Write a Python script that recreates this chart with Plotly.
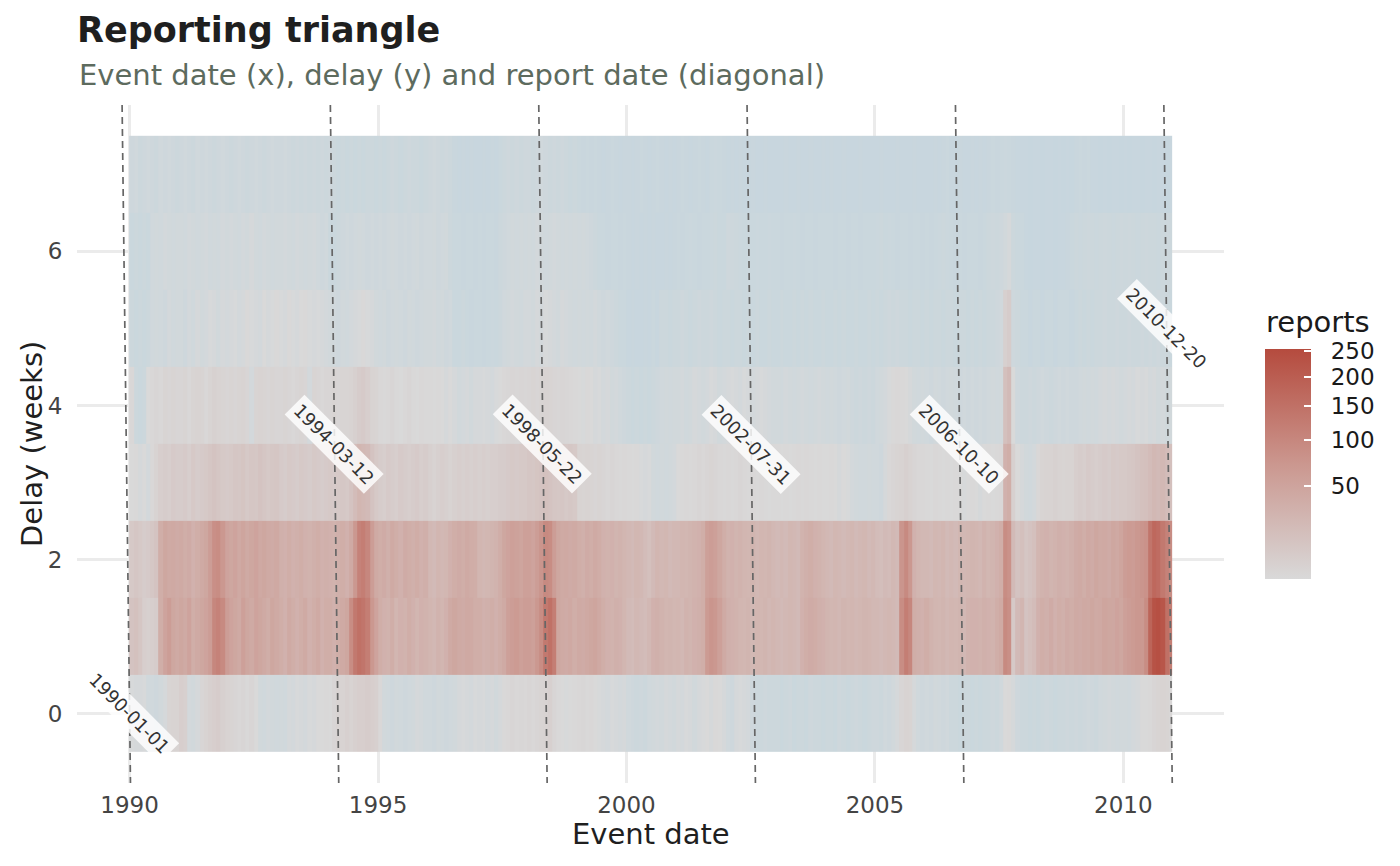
import numpy as np
import pandas as pd
import plotly.graph_objects as go

# ---------------- data (monthly mean weekly reports per delay) ----------------
first_event = "1990-01-01"
last_event = "2010-12-20"
delays = [0, 1, 2, 3, 4, 5, 6, 7]

delay0 = [
    0.9, 0.8, 0.8, 0.9, 0.5, 0.5, 0.4, 0.6, 0.8, 2.5, 3, 3,          # 1990
    5, 4, 0.7, 0.6, 0.8, 2, 3, 4, 5, 6, 4, 3,                       # 1991
    2.5, 2, 1.5, 2, 1.2, 2, 1, 0.6, 0.5, 0.7, 0.6, 0.5,             # 1992
    0.6, 0.5, 0.8, 0.7, 0.9, 0.8, 0.7, 0.9, 0.8, 1, 1, 1.2,         # 1993
    1, 2, 3, 3, 4, 3, 4, 5, 5, 6, 5, 4,                             # 1994
    1.5, 0.6, 0.5, 0.4, 0.6, 0.5, 0.4, 0.5, 0.6, 0.8, 0.7, 0.5,     # 1995
    0.5, 0.4, 0.6, 0.5, 0.4, 0.5, 0.6, 0.8, 0.9, 0.8, 0.7, 0.9,     # 1996
    0.8, 0.9, 0.7, 0.8, 0.6, 0.8, 1.2, 1.5, 2, 1.5, 1.8, 1.5,       # 1997
    2, 1.5, 2, 2.5, 3, 4, 2, 1.2, 1, 0.9, 1, 1.2,                   # 1998
    1.5, 1.8, 1.2, 1.5, 1, 0.9, 0.8, 0.7, 0.9, 0.8, 0.7, 0.8,       # 1999
    0.5, 0.4, 0.3, 0.4, 0.3, 0.5, 0.6, 0.7, 0.6, 0.8, 0.7, 0.6,     # 2000
    0.8, 0.7, 0.9, 0.8, 0.6, 0.8, 0.9, 1, 0.8, 1.2, 1, 0.8,         # 2001
    0.5, 0.4, 0.8, 0.9, 0.8, 0.7, 0.4, 0.3, 0.3, 0.4, 0.3, 0.3,     # 2002
    0.3, 0.2, 0.3, 0.4, 0.2, 0.3, 0.3, 0.2, 0.4, 0.3, 0.3, 0.2,     # 2003
    0.3, 0.3, 0.2, 0.4, 0.3, 0.2, 0.3, 0.4, 0.3, 0.2, 0.3, 0.4,     # 2004
    0.4, 0.3, 0.5, 0.4, 0.6, 0.8, 2, 3, 2.5, 0.8, 0.5, 0.4,         # 2005
    0.5, 0.4, 0.6, 0.5, 0.4, 0.5, 0.3, 0.3, 0.2, 0.3, 0.3, 0.2,     # 2006
    0.3, 0.2, 0.3, 0.3, 0.4, 0.3, 0.5, 1, 1.2, 0.8, 0.4, 0.3,       # 2007
    0.3, 0.2, 0.3, 0.2, 0.3, 0.4, 0.3, 0.2, 0.3, 0.3, 0.4, 0.3,     # 2008
    0.4, 0.3, 0.4, 0.5, 0.4, 0.3, 0.5, 0.6, 0.7, 0.6, 0.5, 0.6,     # 2009
    0.6, 0.5, 0.7, 0.8, 1, 1, 1.2, 2, 2.5, 3, 2.5, 1.5,             # 2010
]
delay1 = [
    12, 14, 10, 5, 4, 5, 6, 35, 50, 60, 45, 40,
    45, 40, 50, 35, 40, 45, 50, 60, 100, 110, 95, 60,
    50, 45, 40, 55, 45, 40, 50, 45, 40, 35, 45, 40,
    35, 30, 40, 35, 30, 35, 40, 30, 35, 40, 30, 35,
    35, 30, 35, 40, 45, 90, 130, 150, 140, 120, 70, 50,
    35, 30, 28, 35, 25, 30, 28, 35, 30, 25, 30, 28,
    25, 22, 28, 25, 30, 40, 45, 40, 38, 42, 40, 35,
    35, 30, 32, 35, 30, 35, 40, 55, 60, 65, 55, 60,
    60, 55, 70, 90, 130, 150, 120, 45, 40, 38, 42, 35,
    40, 38, 42, 45, 48, 42, 35, 30, 28, 32, 30, 25,
    20, 18, 22, 20, 18, 22, 30, 32, 28, 25, 26, 24,
    25, 22, 28, 26, 30, 32, 35, 65, 75, 70, 55, 40,
    32, 30, 28, 25, 24, 26, 22, 25, 24, 26, 22, 25,
    22, 20, 22, 24, 22, 20, 30, 35, 38, 36, 32, 30,
    26, 24, 25, 22, 26, 24, 25, 22, 24, 26, 25, 22,
    22, 20, 22, 24, 22, 20, 90, 120, 100, 35, 32, 30,
    35, 28, 25, 24, 26, 22, 25, 24, 26, 22, 28, 30,
    30, 28, 32, 30, 28, 35, 40, 95, 85, 8, 20, 25,
    12, 15, 18, 30, 35, 32, 38, 30, 35, 32, 38, 35,
    40, 38, 42, 40, 45, 40, 42, 48, 45, 44, 50, 45,
    55, 60, 65, 70, 68, 90, 180, 230, 240, 220, 150, 120,
]
delay2 = [
    8, 10, 8, 6, 7, 9, 12, 35, 45, 40, 42, 38,
    40, 35, 38, 30, 35, 40, 45, 60, 85, 90, 70, 50,
    45, 50, 42, 48, 40, 45, 50, 42, 45, 40, 38, 42,
    32, 30, 35, 30, 32, 35, 30, 28, 32, 35, 30, 32,
    30, 28, 32, 35, 30, 40, 70, 110, 120, 100, 60, 40,
    35, 38, 32, 40, 35, 30, 38, 35, 32, 36, 30, 33,
    22, 20, 25, 22, 24, 30, 35, 38, 35, 40, 36, 35,
    25, 22, 24, 26, 28, 35, 45, 50, 55, 52, 48, 55,
    55, 50, 60, 75, 95, 90, 60, 45, 40, 42, 38, 40,
    35, 32, 38, 35, 40, 36, 30, 28, 30, 26, 28, 25,
    22, 20, 24, 22, 18, 15, 20, 25, 22, 24, 20, 22,
    22, 25, 24, 26, 28, 30, 35, 55, 60, 55, 45, 35,
    28, 30, 26, 28, 25, 24, 26, 22, 25, 24, 26, 22,
    20, 22, 20, 24, 22, 20, 28, 32, 35, 30, 28, 25,
    22, 20, 24, 22, 20, 22, 24, 20, 22, 24, 20, 22,
    18, 16, 20, 18, 22, 20, 75, 95, 70, 30, 25, 22,
    22, 20, 24, 22, 25, 20, 22, 20, 24, 22, 24, 26,
    25, 22, 28, 24, 26, 30, 35, 90, 80, 20, 12, 15,
    10, 12, 15, 25, 28, 30, 26, 28, 32, 30, 28, 32,
    38, 40, 35, 42, 38, 45, 40, 42, 38, 45, 42, 48,
    60, 65, 62, 70, 75, 80, 140, 170, 160, 130, 110, 90,
]
delay3 = [
    1, 1.2, 0.8, 1, 0.7, 1.5, 3, 5, 6, 5, 7, 6,
    6, 7, 5, 8, 6, 7, 8, 10, 12, 10, 8, 7,
    8, 10, 9, 11, 8, 10, 9, 12, 10, 8, 9, 10,
    7, 6, 8, 7, 6, 8, 7, 6, 8, 7, 6, 7,
    8, 7, 8, 9, 8, 12, 18, 25, 22, 20, 12, 8,
    6, 5, 7, 6, 5, 7, 6, 5, 6, 7, 5, 6,
    4, 3, 4, 5, 4, 3, 4, 5, 4, 5, 4, 5,
    4, 5, 4, 5, 5, 6, 6, 7, 8, 7, 8, 8,
    10, 9, 11, 12, 14, 12, 10, 9, 10, 8, 9, 8,
    3, 2.5, 3, 2.5, 2, 2.5, 2, 1.5, 2, 1.5, 1.2, 1.5,
    1.2, 1, 1.2, 0.9, 0.8, 0.9, 0.6, 0.5, 0.6, 0.5, 0.6, 0.7,
    1, 1.2, 1.5, 1.2, 1.5, 2, 1.5, 2, 2.5, 2, 1.5, 1.2,
    1.5, 1.2, 1.5, 2, 1.5, 1.2, 1.5, 1.2, 1.5, 1.2, 1, 1.2,
    1.2, 1, 1.2, 1, 1.2, 1.5, 1.2, 1.5, 1.2, 1, 1.2, 1,
    1, 1.2, 1, 0.8, 1, 0.9, 0.7, 0.6, 0.5, 0.5, 0.6, 0.5,
    0.5, 0.4, 0.8, 1.5, 2, 2.5, 3, 4, 3, 2, 1.5, 1.5,
    1.2, 1, 1.5, 1.2, 1, 1.2, 1, 1.2, 1, 0.9, 1, 1.2,
    1, 0.8, 1, 1.2, 1, 1.2, 1.5, 30, 35, 4, 1, 0.8,
    0.6, 0.5, 0.7, 1.5, 2.5, 3, 3, 3.5, 3, 2.5, 3, 3,
    5, 6, 5, 7, 6, 5, 6, 7, 6, 8, 7, 8,
    8, 9, 10, 12, 14, 15, 18, 22, 20, 22, 18, 15,
]
delay4 = [
    1.5, 0.3, 0.2, 0.3, 1, 1.5, 2, 1.5, 2.5, 2, 2.5, 2,
    2, 2.5, 1.5, 2.5, 3, 2.5, 1.5, 2.5, 3.5, 3, 2.5, 2,
    2.5, 2, 2.5, 3, 2, 0.7, 2.5, 3, 2.5, 2, 2.5, 2,
    2, 2.5, 2, 1.5, 2, 2.5, 2, 0.7, 2.5, 2, 1.5, 2,
    2, 2.5, 2, 2.5, 2.5, 3, 4, 6, 7, 5, 3, 2.5,
    1.5, 1.2, 1.5, 2, 1.2, 1, 1.5, 2, 1.2, 1, 1.5, 1.2,
    1.2, 1, 1.2, 1, 0.8, 1, 0.8, 0.6, 0.7, 0.8, 0.6, 0.8,
    0.8, 0.9, 0.8, 0.7, 0.9, 1, 1.5, 1.8, 2, 1.8, 2, 1.8,
    2, 2.5, 2, 2.5, 3, 2.5, 2, 1.8, 2, 1.8, 1.5, 1.2,
    1, 0.9, 1.2, 1, 0.8, 0.9, 0.7, 0.8, 0.6, 0.7, 0.5, 0.4,
    0.3, 0.2, 0.3, 0.2, 0.3, 0.2, 0.3, 0.4, 0.5, 0.6, 0.5, 0.6,
    0.6, 0.7, 0.5, 0.6, 0.8, 0.7, 0.6, 0.7, 0.9, 0.8, 0.6, 0.7,
    0.8, 0.9, 0.8, 0.7, 0.9, 0.8, 0.7, 0.8, 0.9, 0.8, 0.7, 0.6,
    0.6, 0.5, 0.7, 0.6, 0.5, 0.6, 0.7, 0.6, 0.5, 0.6, 0.7, 0.6,
    0.5, 0.6, 0.5, 0.4, 0.5, 0.6, 0.4, 0.3, 0.4, 0.3, 0.4, 0.3,
    0.5, 0.6, 0.7, 0.9, 1.2, 1.5, 1.2, 1, 0.8, 0.6, 0.5, 0.6,
    0.5, 0.4, 0.6, 0.5, 0.4, 0.5, 0.6, 0.5, 0.4, 0.5, 0.4, 0.5,
    0.4, 0.5, 0.4, 0.5, 0.6, 0.5, 0.6, 15, 20, 1, 0.4, 0.3,
    0.3, 0.4, 0.3, 0.4, 0.5, 0.4, 0.3, 0.4, 0.5, 0.4, 0.5, 0.4,
    0.4, 0.5, 0.6, 0.5, 0.6, 0.5, 0.7, 0.8, 0.7, 0.8, 0.7, 0.6,
    0.7, 0.8, 0.7, 0.9, 0.8, 0.9, 0.7, 0.8, 0.6, 0.7, 0.5, 0.6,
]
delay5 = [
    0.3, 0.2, 0.3, 0.2, 0.3, 0.5, 0.6, 0.5, 0.4, 0.7, 0.5, 0.6,
    0.6, 0.4, 0.7, 0.5, 0.8, 0.6, 0.7, 0.9, 0.8, 0.6, 0.8, 0.7,
    0.8, 0.9, 0.7, 0.8, 1.2, 0.9, 0.8, 0.7, 1, 0.8, 0.9, 1.2,
    0.9, 0.8, 1.2, 0.9, 0.8, 1, 1.2, 0.9, 0.8, 0.9, 0.8, 0.7,
    0.6, 0.5, 0.4, 0.6, 0.5, 0.7, 0.8, 0.9, 1.2, 0.9, 0.8, 0.6,
    0.5, 0.6, 0.4, 0.5, 0.6, 0.5, 0.4, 0.6, 0.5, 0.4, 0.5, 0.6,
    0.6, 0.7, 0.5, 0.6, 0.4, 0.5, 0.2, 0.2, 0.3, 0.2, 0.15, 0.2,
    0.2, 0.15, 0.2, 0.25, 0.2, 0.3, 0.5, 0.6, 0.7, 0.6, 0.5, 0.7,
    0.7, 0.6, 0.8, 0.7, 0.9, 0.8, 0.7, 0.6, 0.8, 0.7, 0.6, 0.5,
    0.6, 0.5, 0.6, 0.5, 0.7, 0.5, 0.4, 0.5, 0.4, 0.3, 0.2, 0.2,
    0.1, 0.15, 0.1, 0.1, 0.15, 0.1, 0.2, 0.1, 0.3, 0.3, 0.2, 0.3,
    0.3, 0.4, 0.3, 0.2, 0.3, 0.4, 0.3, 0.3, 0.4, 0.3, 0.2, 0.3,
    0.3, 0.2, 0.3, 0.3, 0.2, 0.3, 0.2, 0.3, 0.2, 0.2, 0.3, 0.2,
    0.2, 0.3, 0.2, 0.2, 0.3, 0.2, 0.3, 0.2, 0.3, 0.2, 0.2, 0.3,
    0.2, 0.2, 0.3, 0.2, 0.3, 0.2, 0.2, 0.3, 0.2, 0.2, 0.3, 0.2,
    0.3, 0.2, 0.3, 0.4, 0.3, 0.4, 0.3, 0.3, 0.2, 0.3, 0.3, 0.2,
    0.3, 0.2, 0.3, 0.3, 0.2, 0.3, 0.3, 0.2, 0.3, 0.3, 0.2, 0.3,
    0.2, 0.3, 0.2, 0.3, 0.3, 0.4, 0.5, 4, 6, 0.4, 0.3, 0.2,
    0.2, 0.1, 0.2, 0.2, 0.1, 0.2, 0.2, 0.1, 0.2, 0.2, 0.2, 0.1,
    0.2, 0.3, 0.2, 0.3, 0.2, 0.3, 0.3, 0.4, 0.3, 0.3, 0.4, 0.3,
    0.3, 0.4, 0.3, 0.3, 0.4, 0.3, 0.4, 0.3, 0.4, 0.3, 0.3, 0.2,
]
delay6 = [
    0.2, 0.3, 0.2, 0.3, 0.2, 0.5, 0.6, 0.5, 0.7, 0.6, 0.5, 0.6,
    0.6, 0.5, 0.7, 0.6, 0.5, 0.6, 0.7, 0.5, 0.6, 0.5, 0.7, 0.6,
    0.7, 0.6, 0.5, 0.7, 0.6, 0.8, 0.6, 0.5, 0.7, 0.6, 0.5, 0.6,
    0.6, 0.7, 0.6, 0.5, 0.7, 0.6, 0.5, 0.6, 0.7, 0.5, 0.4, 0.5,
    0.2, 0.2, 0.3, 0.4, 0.5, 0.4, 0.5, 0.6, 0.5, 0.4, 0.5, 0.4,
    0.5, 0.4, 0.5, 0.6, 0.5, 0.4, 0.5, 0.4, 0.5, 0.6, 0.4, 0.5,
    0.5, 0.6, 0.4, 0.5, 0.6, 0.3, 0.2, 0.2, 0.15, 0.2, 0.2, 0.15,
    0.2, 0.15, 0.2, 0.2, 0.15, 0.3, 0.4, 0.5, 0.6, 0.5, 0.6, 0.5,
    0.6, 0.5, 0.7, 0.6, 0.5, 0.6, 0.7, 0.6, 0.5, 0.6, 0.5, 0.6,
    0.5, 0.6, 0.5, 0.4, 0.3, 0.2, 0.2, 0.15, 0.2, 0.2, 0.15, 0.2,
    0.15, 0.1, 0.15, 0.1, 0.15, 0.1, 0.15, 0.1, 0.1, 0.15, 0.1, 0.15,
    0.2, 0.15, 0.2, 0.25, 0.2, 0.15, 0.2, 0.2, 0.25, 0.3, 0.2, 0.2,
    0.4, 0.35, 0.3, 0.25, 0.2, 0.25, 0.2, 0.25, 0.2, 0.2, 0.25, 0.2,
    0.2, 0.15, 0.2, 0.2, 0.25, 0.2, 0.15, 0.2, 0.2, 0.15, 0.2, 0.2,
    0.2, 0.2, 0.15, 0.2, 0.2, 0.15, 0.2, 0.2, 0.15, 0.2, 0.2, 0.2,
    0.25, 0.3, 0.2, 0.25, 0.2, 0.15, 0.2, 0.2, 0.15, 0.2, 0.2, 0.15,
    0.2, 0.15, 0.2, 0.25, 0.3, 0.25, 0.2, 0.15, 0.2, 0.15, 0.2, 0.2,
    0.2, 0.15, 0.2, 0.3, 0.35, 0.3, 0.4, 0.6, 0.8, 0.3, 0.2, 0.2,
    0.1, 0.05, 0.1, 0.1, 0.05, 0.1, 0.1, 0.05, 0.1, 0.1, 0.15, 0.2,
    0.3, 0.25, 0.3, 0.35, 0.3, 0.25, 0.3, 0.35, 0.3, 0.25, 0.3, 0.35,
    0.3, 0.35, 0.3, 0.25, 0.3, 0.35, 0.3, 0.3, 0.25, 0.3, 0.35, 0.3,
]
delay7 = [
    0.4, 0.5, 0.3, 0.4, 0.5, 0.4, 0.3, 0.5, 0.4, 0.5, 0.4, 0.3,
    0.4, 0.5, 0.4, 0.3, 0.5, 0.4, 0.5, 0.4, 0.3, 0.4, 0.5, 0.4,
    0.3, 0.4, 0.5, 0.4, 0.3, 0.4, 0.5, 0.4, 0.3, 0.4, 0.5, 0.4,
    0.4, 0.5, 0.4, 0.3, 0.4, 0.3, 0.4, 0.3, 0.4, 0.3, 0.4, 0.3,
    0.4, 0.3, 0.2, 0.3, 0.2, 0.3, 0.2, 0.3, 0.2, 0.3, 0.3, 0.2,
    0.3, 0.2, 0.3, 0.4, 0.3, 0.2, 0.3, 0.4, 0.3, 0.3, 0.2, 0.3,
    0.4, 0.5, 0.4, 0.3, 0.4, 0.3, 0.15, 0.1, 0.15, 0.1, 0.15, 0.1,
    0.1, 0.15, 0.1, 0.15, 0.1, 0.2, 0.3, 0.4, 0.3, 0.4, 0.3, 0.4,
    0.4, 0.3, 0.4, 0.5, 0.4, 0.3, 0.4, 0.3, 0.4, 0.3, 0.2, 0.3,
    0.2, 0.15, 0.2, 0.15, 0.2, 0.15, 0.1, 0.15, 0.2, 0.15, 0.1, 0.15,
    0.15, 0.1, 0.15, 0.2, 0.15, 0.1, 0.15, 0.2, 0.15, 0.1, 0.15, 0.1,
    0.15, 0.2, 0.15, 0.1, 0.15, 0.2, 0.15, 0.1, 0.2, 0.25, 0.2, 0.15,
    0.1, 0.15, 0.1, 0.15, 0.1, 0.1, 0.15, 0.1, 0.1, 0.15, 0.1, 0.1,
    0.1, 0.1, 0.15, 0.1, 0.1, 0.15, 0.1, 0.1, 0.15, 0.1, 0.1, 0.15,
    0.1, 0.15, 0.1, 0.1, 0.15, 0.1, 0.1, 0.1, 0.15, 0.1, 0.1, 0.1,
    0.1, 0.15, 0.1, 0.1, 0.1, 0.15, 0.1, 0.1, 0.1, 0.15, 0.1, 0.1,
    0.1, 0.1, 0.15, 0.1, 0.15, 0.2, 0.1, 0.1, 0.15, 0.1, 0.1, 0.15,
    0.1, 0.15, 0.1, 0.15, 0.2, 0.15, 0.2, 0.25, 0.2, 0.15, 0.1, 0.1,
    0.1, 0.05, 0.1, 0.1, 0.05, 0.1, 0.1, 0.05, 0.1, 0.05, 0.1, 0.05,
    0.15, 0.2, 0.15, 0.2, 0.1, 0.1, 0.05, 0.1, 0.05, 0.1, 0.1, 0.05,
    0.1, 0.05, 0.1, 0.1, 0.05, 0.1, 0.1, 0.05, 0.1, 0.1, 0.05, 0.1,
]

report_dates = ["1990-01-01", "1994-03-12", "1998-05-22", "2002-07-31", "2006-10-10", "2010-12-20"]
label_delays = [0, 3.5, 3.5, 3.5, 3.5, 5]
x_tick_years = [1990, 1995, 2000, 2005, 2010]
y_ticks = [0, 2, 4, 6]
cbar_ticks = [50, 100, 150, 200, 250]
max_reports = 254

# ---------------- build ----------------
rows = [delay0, delay1, delay2, delay3, delay4, delay5, delay6, delay7]
for r in rows:
    assert len(r) == 252, len(r)
z = np.array(rows, dtype=float)
zt = np.where(z < 1, z, np.sqrt(z))
zmax = np.sqrt(max_reports)

half_week = pd.Timedelta(days=3.5)
t0 = pd.Timestamp(first_event)
t1 = pd.Timestamp(last_event)
months = pd.date_range(first_event, periods=z.shape[1], freq="MS")
edges = [t0 - half_week] + list(months[1:]) + [t1 + half_week]
edges = [e.strftime("%Y-%m-%d %H:%M") for e in edges]

span = (t1 + half_week) - (t0 - half_week)
xr = [(t0 - half_week - span * 0.05), (t1 + half_week + span * 0.05)]
y_lo, y_hi = min(delays) - 0.5, max(delays) + 0.5
yr = [y_lo - 0.05 * (y_hi - y_lo), y_hi + 0.05 * (y_hi - y_lo)]

BLUE = "#c6d6de"
GREY = "#d9d9d9"
MID = "#cb978f"
RED = "#b54b3e"
s1 = 1.0 / zmax
main_scale = [[0, BLUE], [s1, GREY], [s1 + (1 - s1) * 0.5, MID], [1, RED]]
bar_scale = [[0, GREY], [0.5, MID], [1, RED]]

FONT = "DejaVu Sans"
W, H = 1400, 866
ml, mr, mt, mb = 77, 176, 105, 83
pw, ph = W - ml - mr, H - mt - mb

fig = go.Figure()
fig.add_trace(go.Heatmap(
    x=edges, y=delays, z=zt, zmin=0, zmax=zmax,
    colorscale=main_scale, showscale=False, hoverinfo="skip",
))

# colour bar carrier (bar 349..579 px), title drawn as annotation
cb_len = 230
cb_center = 579 - cb_len / 2
fig.add_trace(go.Scatter(
    x=[None], y=[None], mode="markers", showlegend=False, hoverinfo="skip",
    marker=dict(
        color=[1], cmin=1, cmax=zmax, colorscale=bar_scale, showscale=True,
        colorbar=dict(
            thickness=46, thicknessmode="pixels", len=cb_len, lenmode="pixels",
            xpad=0, ypad=0,
            x=(1265 - ml) / pw, xanchor="left", y=(H - mb - cb_center) / ph, yanchor="middle",
            tickvals=np.sqrt(cbar_ticks), ticktext=["\u00a0\u00a0" + str(t) for t in cbar_ticks],
            ticks="inside", ticklen=7, tickcolor="white", tickwidth=1.5,
            outlinewidth=0, tickfont=dict(family=FONT, size=23, color="#1a1a1a"),
        ),
    ),
))
fig.add_annotation(
    xref="paper", yref="paper", x=(1264 - ml) / pw, y=(H - mb - 322) / ph,
    xanchor="left", yanchor="middle", text="reports", showarrow=False,
    font=dict(family=FONT, size=29, color="#1a1a1a"),
)

# report-date diagonals
for r in report_dates:
    rd = pd.Timestamp(r)
    xs = [rd - pd.Timedelta(days=7 * yr[1]), rd - pd.Timedelta(days=7 * yr[0])]
    fig.add_trace(go.Scatter(
        x=xs, y=[yr[1], yr[0]], mode="lines", showlegend=False, hoverinfo="skip",
        line=dict(color="#666666", width=1.7, dash="7px,5px"),
    ))

for r, d in zip(report_dates, label_delays):
    rd = pd.Timestamp(r)
    fig.add_annotation(
        x=rd - pd.Timedelta(days=7 * d), y=d, text=r, textangle=45, showarrow=False,
        xanchor="center", yanchor="middle",
        font=dict(family=FONT, size=18, color="#333333"),
        bgcolor="rgba(255,255,255,0.82)", borderpad=3,
    )

# titles
fig.add_annotation(
    xref="paper", yref="paper", x=0, y=(H - mb - 75) / ph, xanchor="left", yanchor="middle",
    text="Event date (x), delay (y) and report date (diagonal)", showarrow=False,
    font=dict(family=FONT, size=29, color="#5d6b5e"),
)
fig.add_annotation(
    xref="paper", yref="paper", x=0.5, y=(H - mb - 834) / ph, xanchor="center", yanchor="middle",
    text="Event date", showarrow=False, font=dict(family=FONT, size=29, color="#1f1f1f"),
)
fig.add_annotation(
    xref="paper", yref="paper", x=(32 - ml) / pw, y=0.5, xanchor="center", yanchor="middle",
    text="Delay (weeks)", textangle=-90, showarrow=False,
    font=dict(family=FONT, size=29, color="#1f1f1f"),
)

fig.update_layout(
    width=W, height=H,
    margin=dict(l=ml, r=mr, t=mt, b=mb, autoexpand=False),
    paper_bgcolor="white", plot_bgcolor="white",
    font=dict(family=FONT),
    showlegend=False,
    title=dict(
        text="<b>Reporting triangle</b>", x=77 / W, xanchor="left", xref="container",
        y=1 - 30 / H, yanchor="middle", yref="container",
        font=dict(family=FONT, size=35, color="#1f1f1f"),
    ),
    xaxis=dict(
        type="date", range=xr, tickvals=[f"{y}-01-01" for y in x_tick_years],
        ticktext=[str(y) for y in x_tick_years],
        showgrid=True, gridcolor="#ebebeb", gridwidth=2.5, zeroline=False, showline=False,
        ticks="outside", ticklen=1, tickcolor="rgba(0,0,0,0)",
        tickfont=dict(family=FONT, size=23, color="#444444"),
    ),
    yaxis=dict(
        range=yr, tickvals=y_ticks, ticktext=[str(v) for v in y_ticks],
        showgrid=True, gridcolor="#ebebeb", gridwidth=2.5, zeroline=False, showline=False,
        ticks="outside", ticklen=9, tickcolor="rgba(0,0,0,0)",
        tickfont=dict(family=FONT, size=23, color="#444444"),
    ),
)

fig.write_html(
    "out.html",
    config={"displayModeBar": False},
    post_script="document.body.style.margin='0px';",
)
